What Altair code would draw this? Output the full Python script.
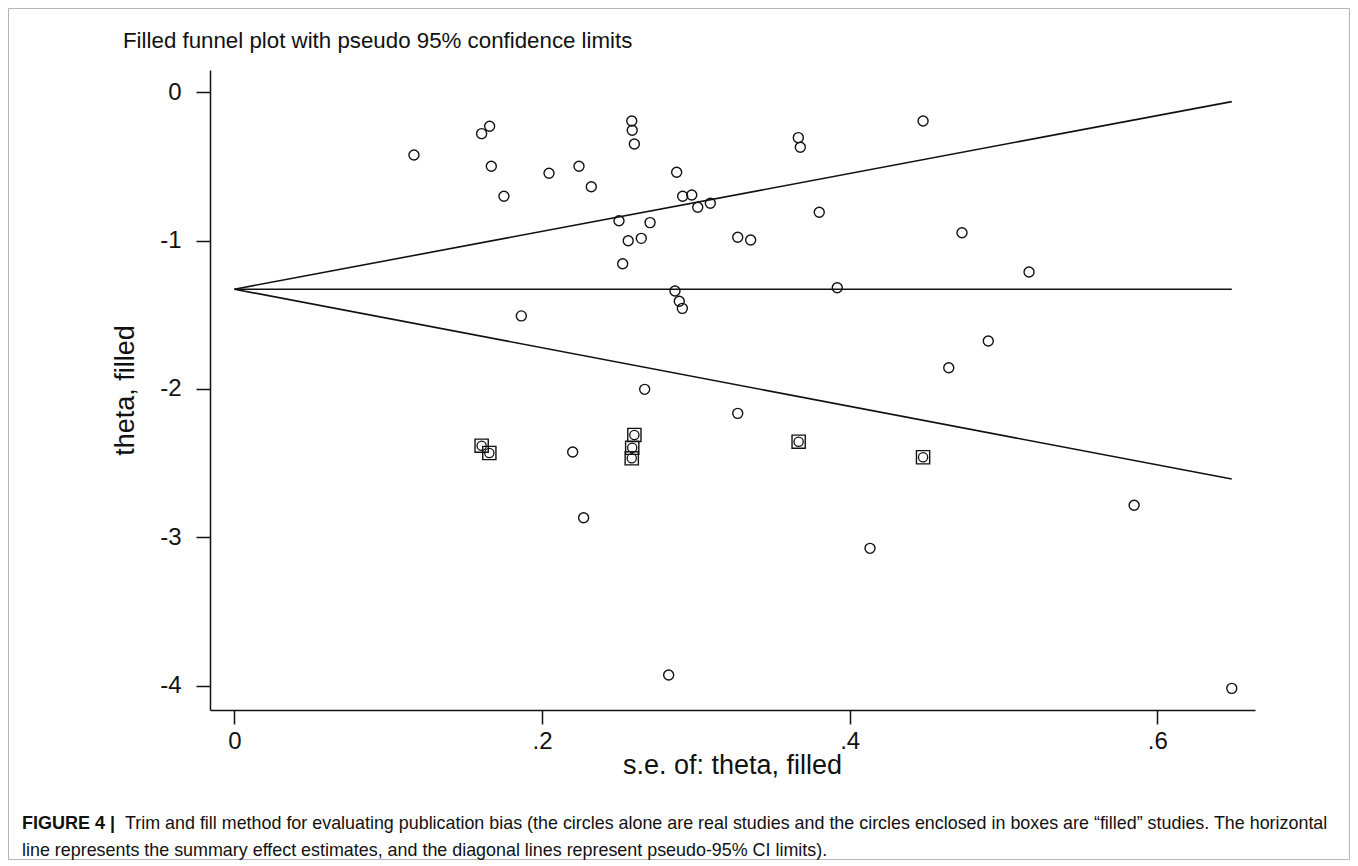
import altair as alt
import pandas as pd

# ---- data ----
real_se = [0.1167, 0.1607, 0.1659, 0.1670, 0.1752, 0.2045, 0.2240, 0.2320, 0.2583, 0.2586,
           0.2600, 0.2875, 0.2914, 0.2973, 0.3012, 0.3094, 0.2500, 0.2702, 0.2560, 0.2645,
           0.2524, 0.2864, 0.3272, 0.3356, 0.3666, 0.3679, 0.3802, 0.4477, 0.4730, 0.5166,
           0.3919, 0.1865, 0.2892, 0.2912, 0.2667, 0.3272, 0.2199, 0.4644, 0.4901, 0.2270,
           0.2823, 0.4132, 0.5849, 0.6484]
real_theta = [-0.423, -0.279, -0.229, -0.499, -0.701, -0.546, -0.499, -0.637, -0.194, -0.256,
              -0.349, -0.539, -0.701, -0.693, -0.775, -0.748, -0.866, -0.879, -1.001, -0.985,
              -1.156, -1.340, -0.978, -0.996, -0.306, -0.371, -0.809, -0.194, -0.947, -1.212,
              -1.318, -1.508, -1.409, -1.457, -2.003, -2.165, -2.426, -1.857, -1.677, -2.869,
              -3.929, -3.075, -2.785, -4.019]

filled_se = [0.1607, 0.1657, 0.2600, 0.2586, 0.2583, 0.3668, 0.4477]
filled_theta = [-2.383, -2.432, -2.311, -2.397, -2.468, -2.356, -2.461]

# funnel: summary line and pseudo 95% limits (start / end values)
line_se_start = [0.0, 0.0, 0.0]
line_se_end = [0.6484, 0.6484, 0.6484]
line_theta_start = [-1.328, -1.328, -1.328]
line_theta_end = [-0.063, -1.328, -2.608]

x_ticks = [0, 0.2, 0.4, 0.6]
y_ticks = [-4, -3, -2, -1, 0]

title_text = "Filled funnel plot with pseudo 95% confidence limits"
x_title = "s.e. of: theta, filled"
y_title = "theta, filled"
caption_bold = "FIGURE 4 |"
caption_line1 = ("Trim and fill method for evaluating publication bias (the circles alone are real studies "
                 "and the circles enclosed in boxes are \u201cfilled\u201d studies. The horizontal")
caption_line2 = "line represents the summary effect estimates, and the diagonal lines represent pseudo-95% CI limits)."

FONT = "Liberation Sans"
INK = "#111111"

real_df = pd.DataFrame({"se": real_se, "theta": real_theta})
filled_df = pd.DataFrame({"se": filled_se, "theta": filled_theta})
lines_df = pd.DataFrame({"se": line_se_start, "se2": line_se_end,
                         "theta": line_theta_start, "theta2": line_theta_end})

xscale = alt.Scale(domain=[-0.0159, 0.6635], nice=False, zero=False)
yscale = alt.Scale(domain=[-4.165, 0.15], nice=False, zero=False)

xaxis = alt.Axis(values=x_ticks, grid=False, title=x_title,
                 labelExpr="datum.value == 0 ? '0' : substring(format(datum.value, '.1f'), 1)",
                 labelFontSize=24, labelFont=FONT, labelColor=INK, labelPadding=5,
                 tickSize=14, tickColor=INK, tickWidth=1.5, domainColor=INK, domainWidth=1.5,
                 titleFont=FONT, titleFontSize=27, titleFontWeight="normal", titleColor=INK,
                 titleX=522, titleY=63, titleBaseline="alphabetic", titleAnchor="middle")
yaxis = alt.Axis(values=y_ticks, grid=False, title=y_title, labelExpr="'' + datum.value",
                 labelFontSize=24, labelFont=FONT, labelColor=INK, labelPadding=15, labelAngle=0,
                 tickSize=14, tickColor=INK, tickWidth=1.5, domainColor=INK, domainWidth=1.5,
                 titleFont=FONT, titleFontSize=27, titleFontWeight="normal", titleColor=INK,
                 titleAngle=270, titleX=-77, titleY=320, titleBaseline="alphabetic",
                 titleAlign="center")

X = alt.X("se:Q", scale=xscale, axis=xaxis)
Y = alt.Y("theta:Q", scale=yscale, axis=yaxis)

lines = alt.Chart(lines_df).mark_rule(color=INK, strokeWidth=1.6).encode(
    x=X, x2="se2:Q", y=Y, y2="theta2:Q")

real_pts = alt.Chart(real_df).mark_point(shape="circle", filled=False, size=100,
                                         stroke=INK, strokeWidth=1.4, opacity=1).encode(x=X, y=Y)
filled_circ = alt.Chart(filled_df).mark_point(shape="circle", filled=False, size=85,
                                              stroke=INK, strokeWidth=1.3, opacity=1).encode(x=X, y=Y)
filled_box = alt.Chart(filled_df).mark_point(shape="square", filled=False, size=175,
                                             stroke=INK, strokeWidth=1.4, opacity=1).encode(x=X, y=Y)

one = pd.DataFrame({"t": [title_text]})
title = alt.Chart(one).mark_text(align="left", baseline="alphabetic", font=FONT, fontSize=22.3,
                                 color=INK).encode(x=alt.value(-87), y=alt.value(-22), text="t:N")

cap_b = alt.Chart(pd.DataFrame({"t": [caption_bold]})).mark_text(
    align="left", baseline="alphabetic", font=FONT, fontSize=18, fontWeight="bold",
    color=INK).encode(x=alt.value(-188), y=alt.value(759), text="t:N")
cap_1 = alt.Chart(pd.DataFrame({"t": [caption_line1]})).mark_text(
    align="left", baseline="alphabetic", font=FONT, fontSize=17.9,
    color=INK).encode(x=alt.value(-85), y=alt.value(759), text="t:N")
cap_2 = alt.Chart(pd.DataFrame({"t": [caption_line2]})).mark_text(
    align="left", baseline="alphabetic", font=FONT, fontSize=17.9,
    color=INK).encode(x=alt.value(-188), y=alt.value(786), text="t:N")

border = alt.Chart(one).mark_rect(fill=None, stroke="#b5b5b5", strokeWidth=1).encode(
    x=alt.value(-201.5), x2=alt.value(1139.5), y=alt.value(-61.5), y2=alt.value(789.5))

chart = alt.layer(border, lines, real_pts, filled_circ, filled_box, title, cap_b, cap_1, cap_2).properties(
    width=1045, height=640,
    autosize=alt.AutoSizeParams(type="none"),
    padding={"left": 202, "top": 62, "right": 95, "bottom": 150},
    background="white",
).configure_view(stroke=None)

chart.save("out.html", embed_options={"renderer": "svg", "actions": False})
